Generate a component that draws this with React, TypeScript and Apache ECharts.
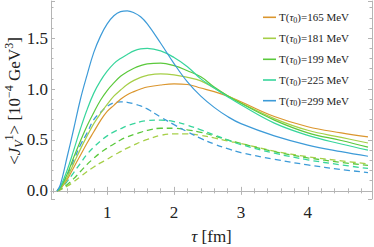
import React, { useEffect, useRef } from "react";
import * as echarts from "echarts";

const tau = [0.25, 0.3, 0.4, 0.5, 0.6, 0.7, 0.8, 0.9, 1.0, 1.1, 1.2, 1.3, 1.4, 1.5, 1.6, 1.8, 2.0, 2.2, 2.4, 2.6, 2.8, 3.0, 3.5, 4.0, 4.5, 4.9];

const labels = ["165", "181", "199", "225", "299"];
const colors = ["#DB962E", "#A6CF48", "#5BC93C", "#38D59C", "#3D9BD8"];

const solid165 = [0, 0.02, 0.11, 0.23, 0.35, 0.47, 0.58, 0.69, 0.78, 0.84, 0.9, 0.945, 0.975, 1.0, 1.02, 1.04, 1.05, 1.045, 1.01, 0.975, 0.93, 0.875, 0.73, 0.63, 0.57, 0.53];
const solid181 = [0, 0.025, 0.13, 0.27, 0.41, 0.54, 0.66, 0.76, 0.85, 0.93, 0.99, 1.045, 1.085, 1.115, 1.135, 1.149, 1.14, 1.115, 1.08, 1.01, 0.935, 0.865, 0.71, 0.595, 0.525, 0.47];
const solid199 = [0, 0.03, 0.16, 0.33, 0.49, 0.64, 0.77, 0.89, 0.985, 1.06, 1.125, 1.17, 1.205, 1.23, 1.248, 1.255, 1.23, 1.18, 1.12, 1.02, 0.935, 0.86, 0.695, 0.57, 0.495, 0.43];
const solid225 = [0, 0.04, 0.2, 0.4, 0.61, 0.8, 0.96, 1.08, 1.175, 1.25, 1.3, 1.34, 1.375, 1.395, 1.4, 1.375, 1.31, 1.22, 1.1, 1.01, 0.925, 0.845, 0.665, 0.545, 0.46, 0.4];
const solid299 = [0, 0.06, 0.33, 0.61, 0.9, 1.14, 1.36, 1.52, 1.64, 1.72, 1.76, 1.768, 1.75, 1.71, 1.64, 1.45, 1.25, 1.07, 0.93, 0.82, 0.73, 0.66, 0.54, 0.45, 0.385, 0.34];

const dashed181 = [0, 0.01, 0.045, 0.09, 0.14, 0.19, 0.235, 0.275, 0.31, 0.35, 0.385, 0.42, 0.45, 0.48, 0.505, 0.545, 0.56, 0.56, 0.545, 0.52, 0.49, 0.465, 0.39, 0.335, 0.295, 0.265];
const dashed199 = [0, 0.015, 0.06, 0.12, 0.19, 0.26, 0.32, 0.375, 0.42, 0.46, 0.5, 0.53, 0.555, 0.575, 0.595, 0.615, 0.615, 0.6, 0.575, 0.54, 0.5, 0.465, 0.385, 0.325, 0.28, 0.25];
const dashed225 = [0, 0.02, 0.09, 0.18, 0.27, 0.36, 0.43, 0.49, 0.54, 0.58, 0.61, 0.64, 0.66, 0.68, 0.69, 0.695, 0.68, 0.645, 0.6, 0.55, 0.5, 0.455, 0.37, 0.305, 0.255, 0.22];
const dashed299 = [0, 0.03, 0.15, 0.3, 0.45, 0.57, 0.7, 0.77, 0.83, 0.865, 0.875, 0.87, 0.855, 0.835, 0.805, 0.725, 0.65, 0.58, 0.515, 0.46, 0.415, 0.375, 0.31, 0.255, 0.21, 0.18];

const solidSets = [solid165, solid181, solid199, solid225, solid299];
const dashedSets: (number[] | null)[] = [null, dashed181, dashed199, dashed225, dashed299];

const FONT = "'Liberation Serif', 'DejaVu Serif', serif";
const FRAME = "#b4b4b4";
const TXT = "#222";

export default function App() {
  const ref = useRef<HTMLDivElement>(null);
  useEffect(() => {
    if (!ref.current) return;
    const chart = echarts.init(ref.current, undefined, { renderer: "svg" });
    const axisCommon = (show: boolean) => ({
      axisLine: { show: true, lineStyle: { color: FRAME, width: 1 } },
      axisTick: { show: true, inside: true, length: 4, lineStyle: { color: FRAME } },
      minorTick: { show: true, splitNumber: 5, length: 2.5, lineStyle: { color: FRAME } },
      splitLine: { show: false },
      minorSplitLine: { show: false },
      axisLabel: {
        show,
        showMinLabel: false,
        showMaxLabel: false,
        fontFamily: FONT,
        fontSize: 17,
        color: TXT,
      },
    });
    const series: any[] = [];
    solidSets.forEach((vals, k) => {
      series.push({
        name: labels[k],
        type: "line",
        data: tau.map((t, i) => [t, vals[i]]),
        showSymbol: false,
        symbol: "none",
        smooth: 0.4,
        silent: true,
        lineStyle: { color: colors[k], width: 1.2 },
        z: 3,
      });
    });
    dashedSets.forEach((vals, k) => {
      if (!vals) return;
      series.push({
        name: labels[k] + "d",
        type: "line",
        data: tau.map((t, i) => [t, vals[i]]),
        showSymbol: false,
        symbol: "none",
        smooth: 0.4,
        silent: true,
        lineStyle: { color: colors[k], width: 1.3, type: [6, 4] },
        z: 2,
      });
    });

    const legendItems: any[] = [];
    const rows = [17.3, 38.3, 59.3, 80, 100.7];
    labels.forEach((lab, k) => {
      legendItems.push({
        type: "line",
        shape: { x1: 263, y1: rows[k], x2: 276, y2: rows[k] },
        style: { stroke: colors[k], lineWidth: 1.6 },
      });
      legendItems.push({
        type: "text",
        x: 279,
        y: rows[k],
        style: {
          text: `{a|T(}{i|τ}{s|0}{a|)=${lab} MeV}`,
          align: "left",
          verticalAlign: "middle",
          fill: TXT,
          rich: {
            a: { fontFamily: FONT, fontSize: 11, lineHeight: 14, fill: TXT },
            i: { fontFamily: FONT, fontSize: 11, lineHeight: 14, fontStyle: "italic", fill: TXT },
            s: { fontFamily: FONT, fontSize: 8, lineHeight: 8, verticalAlign: "bottom", fill: TXT },
          },
        },
      });
    });

    chart.setOption({
      animation: false,
      grid: { left: 51, right: 2, top: 1, bottom: 48, containLabel: false },
      xAxis: [
        { type: "value", min: 0.16, max: 4.96, minInterval: 1, maxInterval: 1, position: "bottom", ...axisCommon(true), axisLabel: { ...axisCommon(true).axisLabel, margin: 5 } },
        { type: "value", min: 0.16, max: 4.96, minInterval: 1, maxInterval: 1, position: "top", ...axisCommon(false) },
      ],
      yAxis: [
        {
          type: "value", min: -0.08, max: 1.865, minInterval: 0.5, maxInterval: 0.5, position: "left", ...axisCommon(true),
          axisLabel: { ...axisCommon(true).axisLabel, margin: 3, formatter: (v: number) => v.toFixed(1) },
        },
        { type: "value", min: -0.08, max: 1.865, minInterval: 0.5, maxInterval: 0.5, position: "right", ...axisCommon(false) },
      ],
      series,
      graphic: [
        ...legendItems,
        {
          type: "text",
          x: 211.5,
          y: 236,
          style: {
            text: "{i|τ}{a| [fm]}",
            align: "center",
            verticalAlign: "middle",
            rich: {
              a: { fontFamily: FONT, fontSize: 17, fill: TXT },
              i: { fontFamily: FONT, fontSize: 17, fontStyle: "italic", fill: TXT },
            },
          },
        },
        {
          type: "text",
          x: 14,
          y: 101,
          rotation: Math.PI / 2,
          style: {
            text: "{a|<}{i|J}{sub|V}{sup|1}{a|> [10}{sup|−4}{a| GeV}{sup|3}{a|]}",
            align: "center",
            verticalAlign: "middle",
            rich: {
              a: { fontFamily: FONT, fontSize: 17, lineHeight: 22, fill: TXT },
              i: { fontFamily: FONT, fontSize: 17, lineHeight: 22, fontStyle: "italic", fill: TXT },
              sup: { fontFamily: FONT, fontSize: 12, lineHeight: 12, verticalAlign: "top", fill: TXT },
              sub: { fontFamily: FONT, fontSize: 12, lineHeight: 12, verticalAlign: "bottom", fontStyle: "italic", fill: TXT },
            },
          },
        },
      ],
    });
    return () => chart.dispose();
  }, []);
  return <div ref={ref} style={{ position: "absolute", left: 0, top: 0, width: 374, height: 247 }} />;
}
